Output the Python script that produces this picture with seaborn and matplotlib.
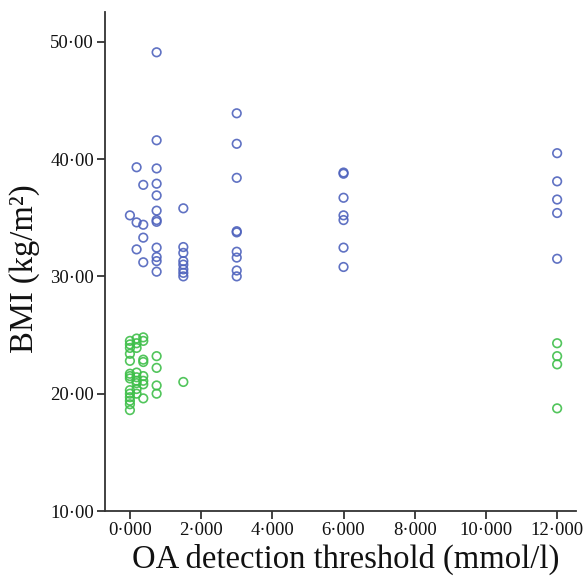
import numpy as np
import pandas as pd
import matplotlib
matplotlib.use("Agg")
import matplotlib.pyplot as plt
import seaborn as sns
from matplotlib.ticker import FuncFormatter

# ---- data (BMI values per OA detection threshold) ----
thresholds = [0.0, 0.1875, 0.375, 0.75, 1.5, 3.0, 6.0, 12.0]

obese_bmi = {
    0.0: [35.2],
    0.1875: [39.3, 34.6, 32.3],
    0.375: [37.8, 34.4, 33.3, 31.2],
    0.75: [49.1, 41.6, 39.2, 37.9, 36.9, 35.6, 34.8, 34.65, 32.45, 31.65, 31.3, 30.4],
    1.5: [35.8, 32.5, 32.0, 31.3, 31.0, 30.6, 30.3, 30.0],
    3.0: [43.9, 41.3, 38.4, 33.85, 33.75, 32.1, 31.6, 30.5, 30.0],
    6.0: [38.85, 38.75, 36.7, 35.2, 34.8, 32.45, 30.8],
    12.0: [40.5, 38.1, 36.55, 35.4, 31.5],
}

lean_bmi = {
    0.0: [24.5, 24.2, 23.9, 23.4, 22.8, 21.7, 21.5, 21.3, 20.3, 20.0, 19.7, 19.4, 19.1, 18.6],
    0.1875: [24.7, 24.3, 23.9, 21.8, 21.4, 21.1, 20.9, 20.4, 20.0],
    0.375: [24.8, 24.5, 22.9, 22.7, 21.5, 21.1, 20.8, 19.6],
    0.75: [23.2, 22.2, 20.7, 20.0],
    1.5: [21.0],
    3.0: [],
    6.0: [],
    12.0: [24.3, 23.2, 22.5, 18.75],
}

group_names = ["Obese", "Lean"]
group_colors = ["#4f63bd", "#3fbf4a"]

x_ticks = [0, 2, 4, 6, 8, 10, 12]
y_ticks = [10, 20, 30, 40, 50]

rows = []
for t in thresholds:
    for v in obese_bmi[t]:
        rows.append((t, v, group_names[0]))
    for v in lean_bmi[t]:
        rows.append((t, v, group_names[1]))
df = pd.DataFrame(rows, columns=["threshold", "bmi", "group"])

# ---- plot ----
sns.set_style("white")
plt.rcParams["font.family"] = ["Liberation Serif", "DejaVu Serif"]

fig = plt.figure(figsize=(5.87, 5.81), dpi=100)
ax = fig.add_axes([105 / 587, 1 - 511 / 581, (576 - 105) / 587, (511 - 11.7) / 581])

sns.scatterplot(
    data=df, x="threshold", y="bmi", hue="group",
    hue_order=group_names, palette=group_colors,
    ax=ax, s=38, marker="o", legend=False,
    linewidth=1.2, alpha=0.9,
)
# hollow markers with coloured edges
coll = ax.collections[0]
cols = [group_colors[group_names.index(g)] for g in df["group"]]
coll.set_facecolor("none")
coll.set_edgecolors(cols)

ax.set_xlim(-0.70, 12.53)
ax.set_ylim(10, 52.56)
ax.set_xticks(x_ticks)
ax.set_yticks(y_ticks)
ax.xaxis.set_major_formatter(FuncFormatter(lambda v, p: f"{v:.3f}".replace(".", "\u00b7")))
ax.yaxis.set_major_formatter(FuncFormatter(lambda v, p: f"{v:.2f}".replace(".", "\u00b7")))

for side in ["top", "right"]:
    ax.spines[side].set_visible(False)
for side in ["left", "bottom"]:
    ax.spines[side].set_color("#333333")
    ax.spines[side].set_linewidth(1.3)

ax.tick_params(axis="both", direction="out", length=6, width=1.3, color="#333333",
               labelsize=13.5, labelcolor="#111111", pad=2)
ax.tick_params(left=True, bottom=True)

ax.set_xlabel("OA detection threshold (mmol/l)", fontsize=23.5, color="#111111")
ax.xaxis.label.set_verticalalignment("top")
ax.xaxis.set_label_coords(0.51, -0.066, transform=ax.transAxes)

ax.set_ylabel("BMI (kg/m\u00b2)", fontsize=23.5, color="#111111")
ax.yaxis.label.set_verticalalignment("center")
ax.yaxis.set_label_coords(-0.17, 0.485, transform=ax.transAxes)

fig.savefig("out.png", dpi=100)
